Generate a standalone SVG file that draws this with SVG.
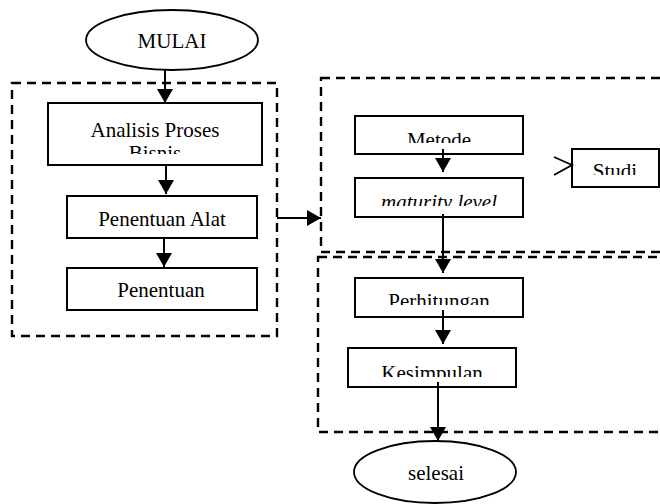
<svg xmlns="http://www.w3.org/2000/svg" width="660" height="504" viewBox="0 0 660 504" font-family="Liberation Serif, Times New Roman, DejaVu Serif, serif">
  <style>
    .frame { fill: none; stroke: #000; stroke-width: 2.4; stroke-dasharray: 9 6; }
    .box { fill: #fff; stroke: #000; stroke-width: 2; }
    .term { fill: #fff; stroke: #000; stroke-width: 1.8; }
    .lbl { font-family: 'Liberation Serif', 'Times New Roman', 'DejaVu Serif', serif; font-size: 21px; fill: #000; text-anchor: middle; }
    .it { font-style: italic; }
    .wire { fill: none; stroke: #000; stroke-width: 2; }
    .chev { fill: none; stroke: #000; stroke-width: 1.8; }
  </style>
  <defs>
    <marker id="arrow" viewBox="0 0 14 16" refX="14" refY="8" markerWidth="14" markerHeight="16" markerUnits="userSpaceOnUse" orient="auto">
      <path d="M0,0 L14,8 L0,16 Z" fill="#000"/>
    </marker>
    <clipPath id="c-analisis"><rect x="48" y="103" width="214" height="51"/></clipPath>
    <clipPath id="c-metode"><rect x="355" y="116" width="168" height="27"/></clipPath>
    <clipPath id="c-maturity"><rect x="355" y="178" width="168" height="28"/></clipPath>
    <clipPath id="c-studi"><rect x="572" y="149" width="87" height="26"/></clipPath>
    <clipPath id="c-perhitungan"><rect x="355" y="278" width="168" height="27"/></clipPath>
    <clipPath id="c-kesimpulan"><rect x="348" y="348" width="168" height="29"/></clipPath>
  </defs>

  <!-- grouping frames -->
  <g id="frames">
    <rect class="frame" x="12" y="83" width="265" height="253"/>
    <rect class="frame" x="321" y="78" width="360" height="174"/>
    <rect class="frame" x="318" y="257" width="360" height="175"/>
  </g>

  <g id="mulai">
    <ellipse class="term" cx="172" cy="40" rx="86" ry="30"/>
    <text class="lbl" x="172" y="48">MULAI</text>
  </g>

  <g id="analisis">
    <rect class="box" x="48" y="103" width="214" height="62"/>
    <g clip-path="url(#c-analisis)">
      <text class="lbl" x="155" y="137">Analisis Proses</text>
      <text class="lbl" x="155" y="160">Bisnis</text>
    </g>
  </g>

  <g id="penentuan-alat">
    <rect class="box" x="67" y="196" width="190" height="42"/>
    <text class="lbl" x="162" y="226">Penentuan Alat</text>
  </g>

  <g id="penentuan">
    <rect class="box" x="67" y="268" width="190" height="42"/>
    <text class="lbl" x="161" y="297">Penentuan</text>
  </g>

  <g id="metode">
    <rect class="box" x="355" y="116" width="168" height="38"/>
    <text class="lbl" x="439" y="147" clip-path="url(#c-metode)">Metode</text>
  </g>

  <g id="maturity">
    <rect class="box" x="355" y="178" width="168" height="39"/>
    <text class="lbl it" x="439" y="209" clip-path="url(#c-maturity)">maturity level</text>
  </g>

  <g id="studi">
    <rect class="box" x="572" y="149" width="87" height="38"/>
    <text class="lbl" x="615" y="178" clip-path="url(#c-studi)">Studi</text>
  </g>

  <g id="perhitungan">
    <rect class="box" x="355" y="278" width="168" height="39"/>
    <text class="lbl" x="439" y="308" clip-path="url(#c-perhitungan)">Perhitungan</text>
  </g>

  <g id="kesimpulan">
    <rect class="box" x="348" y="348" width="168" height="39"/>
    <text class="lbl" x="432" y="380" clip-path="url(#c-kesimpulan)">Kesimpulan</text>
  </g>

  <g id="selesai">
    <ellipse class="term" cx="435" cy="472" rx="81" ry="31"/>
    <text class="lbl" x="436" y="480">selesai</text>
  </g>

  <!-- connectors -->
  <g id="connectors">
    <line class="wire" x1="165" y1="70" x2="165" y2="103" marker-end="url(#arrow)"/>
    <line class="wire" x1="166" y1="165" x2="166" y2="194" marker-end="url(#arrow)"/>
    <line class="wire" x1="164" y1="238" x2="164" y2="267" marker-end="url(#arrow)"/>
    <line class="wire" x1="277" y1="218" x2="321" y2="218" marker-end="url(#arrow)"/>
    <line class="wire" x1="443" y1="149" x2="443" y2="172" marker-end="url(#arrow)"/>
    <line class="wire" x1="443" y1="214" x2="443" y2="273" marker-end="url(#arrow)"/>
    <line class="wire" x1="443" y1="310" x2="443" y2="344" marker-end="url(#arrow)"/>
    <line class="wire" x1="438" y1="382" x2="438" y2="441" marker-end="url(#arrow)"/>
    <polyline class="chev" points="554,157 572,165 554,175"/>
  </g>
</svg>
